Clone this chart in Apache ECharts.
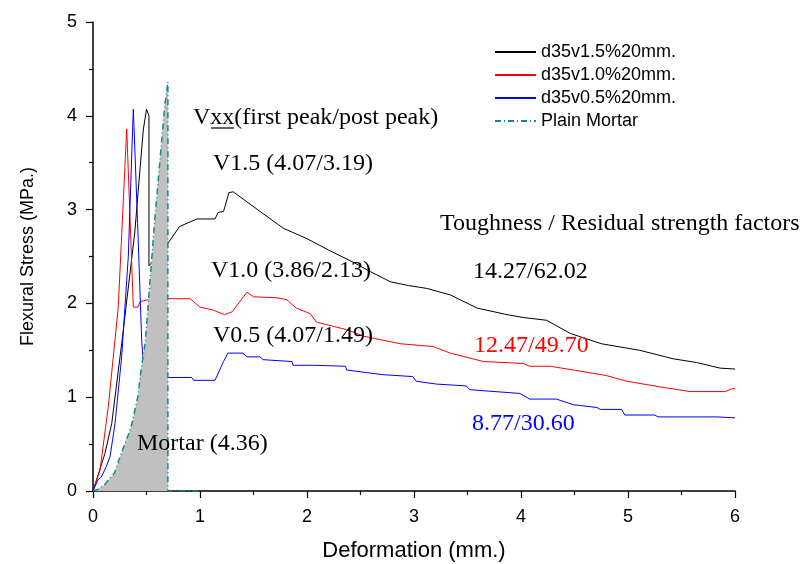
<!DOCTYPE html>
<html>
<head>
<meta charset="utf-8">
<script src="https://cdn.jsdelivr.net/npm/echarts@6/dist/echarts.min.js"></script>
<style>html,body{margin:0;padding:0;background:#fff}#c{width:802px;height:564px}</style>
</head>
<body>
<div id="c"></div>
<script>
// Deformation (mm) / Flexural stress (MPa) pairs
var v15x = [0, 0.05, 0.112, 0.175, 0.268, 0.39, 0.47, 0.50, 0.523, 0.523, 0.60, 0.70, 0.81, 0.97, 1.14, 1.17, 1.22, 1.27, 1.31, 1.55, 1.78, 2.0, 2.2, 2.43, 2.59, 2.78, 2.95, 3.12, 3.34, 3.59, 3.87, 4.02, 4.24, 4.46, 4.75, 5.11, 5.42, 5.64, 5.86, 6.0];
var v15y = [0, 0.18, 0.40, 0.72, 1.57, 2.75, 3.85, 4.07, 4.0, 2.40, 2.50, 2.64, 2.82, 2.90, 2.90, 2.97, 2.98, 3.18, 3.19, 2.99, 2.80, 2.69, 2.57, 2.44, 2.34, 2.23, 2.19, 2.16, 2.09, 1.95, 1.88, 1.85, 1.82, 1.68, 1.57, 1.50, 1.41, 1.37, 1.31, 1.30];

var v10x = [0, 0.065, 0.143, 0.236, 0.315, 0.377, 0.42, 0.44, 0.52, 0.70, 0.907, 1.0, 1.12, 1.23, 1.30, 1.44, 1.50, 1.72, 1.81, 1.90, 2.03, 2.09, 2.37, 2.53, 2.87, 3.18, 3.34, 3.65, 4.02, 4.08, 4.27, 4.49, 4.80, 4.99, 5.30, 5.58, 5.91, 5.97, 6.0];
var v10y = [0, 0.22, 0.90, 1.96, 3.86, 1.96, 1.96, 2.02, 2.04, 2.05, 2.05, 1.96, 1.93, 1.88, 1.91, 2.12, 2.07, 2.06, 2.04, 1.95, 1.89, 1.80, 1.72, 1.65, 1.57, 1.54, 1.47, 1.38, 1.36, 1.33, 1.33, 1.29, 1.23, 1.17, 1.11, 1.06, 1.06, 1.09, 1.09];

var v05x = [0, 0.047, 0.078, 0.124, 0.16, 0.206, 0.268, 0.33, 0.37, 0.377, 0.39, 0.417, 0.455, 0.48, 0.70, 0.922, 0.94, 1.14, 1.22, 1.26, 1.40, 1.44, 1.56, 1.59, 1.86, 1.87, 2.07, 2.36, 2.37, 2.71, 2.99, 3.02, 3.21, 3.49, 3.52, 3.99, 4.08, 4.33, 4.49, 4.71, 4.74, 4.94, 4.97, 5.25, 5.28, 5.83, 6.0];
var v05y = [0, 0.12, 0.15, 0.26, 0.37, 0.72, 1.43, 2.50, 3.85, 4.07, 4.07, 2.85, 1.61, 1.22, 1.21, 1.21, 1.18, 1.18, 1.38, 1.47, 1.47, 1.43, 1.43, 1.40, 1.38, 1.34, 1.34, 1.33, 1.29, 1.24, 1.22, 1.17, 1.14, 1.12, 1.08, 1.04, 0.98, 0.98, 0.92, 0.89, 0.87, 0.87, 0.81, 0.81, 0.79, 0.79, 0.78];

var mortarX = [0, 0.05, 0.11, 0.20, 0.27, 0.33, 0.36, 0.42, 0.45, 0.49, 0.53, 0.577, 0.623, 0.67, 0.70, 0.70, 1.0];
var mortarY = [0, 0.02, 0.07, 0.19, 0.42, 0.60, 0.70, 1.01, 1.30, 1.60, 2.20, 2.89, 3.49, 4.10, 4.36, 0, 0];

var seriesNames = ['d35v1.5%20mm.', 'd35v1.0%20mm.', 'd35v0.5%20mm.', 'Plain Mortar'];
var xTicks = [0, 1, 2, 3, 4, 5, 6];
var yTicks = [0, 1, 2, 3, 4, 5];

function pairs(xs, ys) { return xs.map(function (x, i) { return [x, ys[i]]; }); }

var chart = echarts.init(document.getElementById('c'), null, { renderer: 'canvas' });
var serif = '"Liberation Serif", "Times New Roman", serif';
var sans = '"Liberation Sans", Arial, sans-serif';
var annoSize = 24;
function anno(text, left, top, color) {
  return { type: 'text', left: left, top: top, z: 10, style: { text: text, font: annoSize + 'px ' + serif, fill: color || '#000' } };
}

chart.setOption({
  animation: false,
  backgroundColor: '#fff',
  grid: { left: 93, right: 67, top: 22, bottom: 73, containLabel: false, outerBoundsMode: 'none' },
  legend: {
    orient: 'vertical', left: 494, top: 43, padding: 0, itemWidth: 41, itemHeight: 14, itemGap: 5,
    itemStyle: { opacity: 0 },
    textStyle: { fontFamily: sans, fontSize: 18, lineHeight: 18, color: '#000' },
    data: seriesNames
  },
  xAxis: {
    type: 'value', min: xTicks[0], max: xTicks[xTicks.length - 1], interval: 1,
    name: 'Deformation (mm.)', nameLocation: 'middle', nameGap: 49,
    nameTextStyle: { fontFamily: sans, fontSize: 22, color: '#000' },
    axisLine: { onZero: false, lineStyle: { color: '#000', width: 1.5 } },
    axisTick: { inside: false, length: 7, lineStyle: { color: '#000', width: 1.2 } },
    minorTick: { show: true, splitNumber: 2, length: 4, lineStyle: { color: '#000', width: 1.2 } },
    axisLabel: { margin: 17, fontFamily: sans, fontSize: 18, color: '#000' },
    splitLine: { show: false }
  },
  yAxis: {
    type: 'value', min: yTicks[0], max: yTicks[yTicks.length - 1], interval: 1,
    name: 'Flexural Stress (MPa.)', nameLocation: 'middle', nameGap: 56,
    nameTextStyle: { fontFamily: sans, fontSize: 18, color: '#000' },
    axisLine: { onZero: false, lineStyle: { color: '#000', width: 1.5 } },
    axisTick: { inside: false, length: 7, lineStyle: { color: '#000', width: 1.2 } },
    minorTick: { show: true, splitNumber: 2, length: 4, lineStyle: { color: '#000', width: 1.2 } },
    axisLabel: { margin: 16, fontFamily: sans, fontSize: 18, color: '#000' },
    splitLine: { show: false }
  },
  series: [
    { name: seriesNames[0], type: 'line', data: pairs(v15x, v15y), showSymbol: false, symbol: 'none',
      lineStyle: { color: '#000', width: 1 }, itemStyle: { color: '#000' }, z: 2 },
    { name: seriesNames[1], type: 'line', data: pairs(v10x, v10y), showSymbol: false, symbol: 'none',
      lineStyle: { color: '#ff0000', width: 1 }, itemStyle: { color: '#ff0000' }, z: 2 },
    { name: seriesNames[2], type: 'line', data: pairs(v05x, v05y), showSymbol: false, symbol: 'none',
      lineStyle: { color: '#0000ff', width: 1 }, itemStyle: { color: '#0000ff' }, z: 2 },
    { name: seriesNames[3], type: 'line', data: pairs(mortarX, mortarY), showSymbol: false, symbol: 'none',
      lineStyle: { color: '#108a8a', width: 1.5, type: [6, 3, 1, 3] }, itemStyle: { color: '#108a8a' },
      areaStyle: { color: '#c0c0c0', opacity: 1 }, z: 3 }
  ],
  graphic: [
    anno('Vxx(first peak/post peak)', 193, 106),
    { type: 'line', z: 10, shape: { x1: 211, y1: 128, x2: 234, y2: 128 }, style: { stroke: '#000', lineWidth: 1.2 } },
    anno('V1.5 (4.07/3.19)', 213, 152),
    anno('V1.0 (3.86/2.13)', 211, 259),
    anno('V0.5 (4.07/1.49)', 213, 324),
    { type: 'text', left: 440, top: 212, z: 10, style: { text: '{a|Toughness }{b|/}{a| Residual strength factors}',
        rich: { a: { fontFamily: serif, fontSize: annoSize, color: '#000' }, b: { fontFamily: serif, fontSize: annoSize, color: '#3050ff' } } } },
    anno('14.27/62.02', 473, 260),
    anno('12.47/49.70', 474, 334, '#ff0000'),
    anno('8.77/30.60', 472, 412, '#0000ff'),
    anno('Mortar (4.36)', 137, 432)
  ]
});
</script>
</body>
</html>
